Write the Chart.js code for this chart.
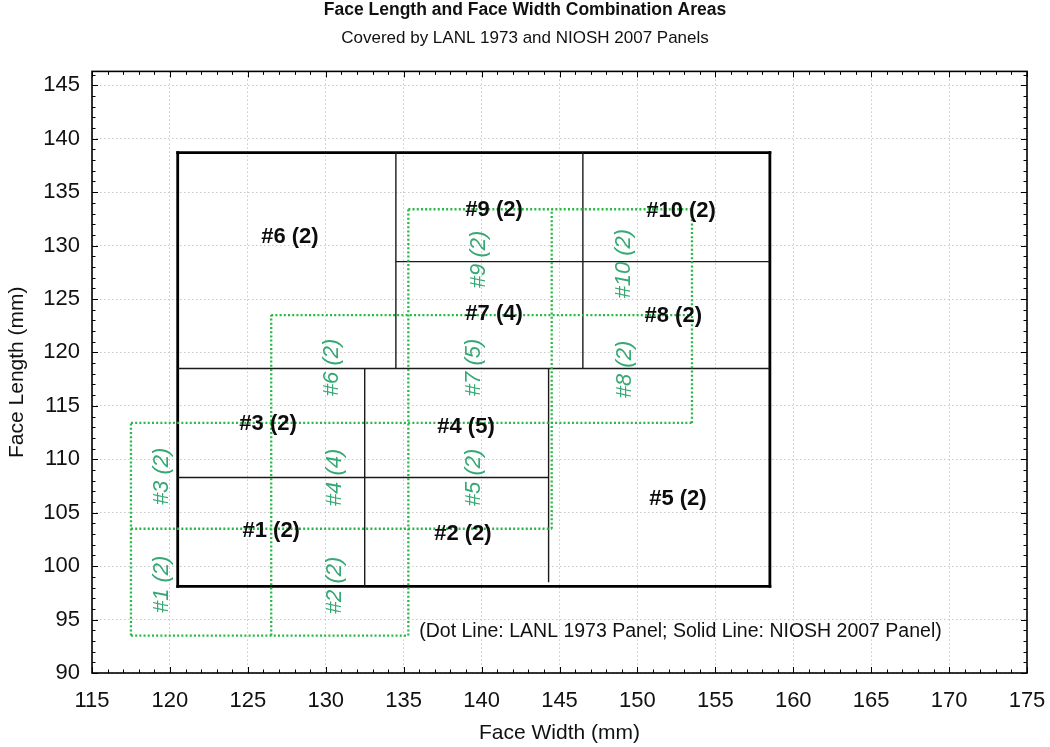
<!DOCTYPE html>
<html>
<head>
<meta charset="utf-8">
<title>Face Length and Face Width Combination Areas</title>
<script src="https://cdn.jsdelivr.net/npm/chart.js@4.4.1/dist/chart.umd.min.js"></script>
<style>
  html, body { margin: 0; padding: 0; background: #fff; }
  #wrap { width: 1050px; height: 747px; }
</style>
</head>
<body>
<div id="wrap"><canvas id="areaChart" width="1050" height="747"></canvas></div>
<script>
// ---- data (mm) ----
// segments are [x1, y1, x2, y2] = [width1, length1, width2, length2]

// NIOSH 2007 panel: outer box + inner cell borders (solid)
const nioshOutline = [
    [120.5, 98.1, 158.5, 98.1],
    [158.5, 98.1, 158.5, 138.7],
    [158.5, 138.7, 120.5, 138.7],
    [120.5, 138.7, 120.5, 98.1]
];
const nioshCells = [
    [120.5, 118.5, 158.5, 118.5],
    [120.5, 108.3, 144.3, 108.3],
    [134.5, 128.5, 158.5, 128.5],
    [132.5, 98.1, 132.5, 118.5],
    [144.3, 98.5, 144.3, 118.5],
    [134.5, 118.5, 134.5, 138.7],
    [146.5, 118.5, 146.5, 138.7]
];

// LANL 1973 panel cell borders (dotted)
const lanlCells = [
    [117.5, 93.5, 135.3, 93.5],
    [117.5, 103.5, 144.5, 103.5],
    [117.5, 113.4, 153.5, 113.4],
    [126.5, 123.5, 153.5, 123.5],
    [135.3, 133.4, 153.5, 133.4],
    [117.5, 93.5, 117.5, 113.4],
    [126.5, 93.5, 126.5, 123.5],
    [135.3, 93.5, 135.3, 133.4],
    [144.5, 103.5, 144.5, 133.4],
    [153.5, 113.4, 153.5, 133.4]
];

// cell labels
const nioshLabels = ['#1 (2)', '#2 (2)', '#3 (2)', '#4 (5)', '#5 (2)', '#6 (2)', '#7 (4)', '#8 (2)', '#9 (2)', '#10 (2)'];
const nioshLabelX = [126.5, 138.8, 126.3, 139.0, 152.6, 127.7, 140.8, 152.3, 140.8, 152.8];
const nioshLabelY = [103.3, 103.0, 113.3, 113.0, 106.3, 130.8, 123.6, 123.4, 133.3, 133.2];

const lanlLabels = ['#1 (2)', '#2 (2)', '#3 (2)', '#4 (4)', '#5 (2)', '#6 (2)', '#7 (5)', '#8 (2)', '#9 (2)', '#10 (2)'];
const lanlLabelX = [119.5, 130.6, 119.5, 130.6, 139.5, 130.4, 139.5, 149.2, 139.8, 149.1];
const lanlLabelY = [98.3, 98.2, 108.4, 108.3, 108.3, 118.6, 118.6, 118.4, 128.7, 128.3];

const noteText = '(Dot Line: LANL 1973 Panel; Solid Line: NIOSH 2007 Panel)';
const noteX = 136.0;
const noteY = 93.9;

// axis ranges / ticks
const xMin = 115, xMax = 175;
const yMin = 90, yMax = 146.3;
const majorStep = 5, minorStep = 1;

const FONT = "'Liberation Sans', Arial, sans-serif";

// one scatter dataset per straight segment
function segmentDataset(seg, style) {
    return Object.assign({
        data: [{ x: seg[0], y: seg[1] }, { x: seg[2], y: seg[3] }],
        showLine: true,
        pointRadius: 0,
        pointHoverRadius: 0,
        fill: false,
        tension: 0
    }, style);
}

const lanlStyle = { borderColor: '#28b846', borderWidth: 2.3, borderDash: [2, 2.2], borderCapStyle: 'butt' };
const nioshStyle = { borderColor: '#1a1a1a', borderWidth: 1.4 };
const outlineStyle = { borderColor: '#000', borderWidth: 2.8, borderCapStyle: 'square' };

// LANL first so it is painted on top
const datasets = [
    ...lanlCells.map(s => segmentDataset(s, lanlStyle)),
    ...nioshCells.map(s => segmentDataset(s, nioshStyle)),
    ...nioshOutline.map(s => segmentDataset(s, outlineStyle))
];

// white page behind everything
const whiteBg = {
    id: 'whiteBg',
    beforeDraw(chart) {
        const ctx = chart.ctx;
        ctx.save();
        ctx.fillStyle = '#fff';
        ctx.fillRect(0, 0, chart.width, chart.height);
        ctx.restore();
    }
};

// frame with inward major/minor ticks on all four sides
const frameTicks = {
    id: 'frameTicks',
    afterDraw(chart) {
        const { ctx, chartArea: a, scales: { x, y } } = chart;
        ctx.save();
        ctx.strokeStyle = '#000';
        ctx.lineWidth = 1;
        ctx.beginPath();
        for (let v = xMin; v <= xMax + 1e-9; v += minorStep) {
            const px = Math.round(x.getPixelForValue(v)) + 0.5;
            const len = v % majorStep === 0 ? 6 : 3.5;
            ctx.moveTo(px, a.bottom); ctx.lineTo(px, a.bottom - len);
            ctx.moveTo(px, a.top); ctx.lineTo(px, a.top + len);
        }
        for (let v = yMin; v <= yMax; v += minorStep) {
            const py = Math.round(y.getPixelForValue(v)) + 0.5;
            const len = v % majorStep === 0 ? 6 : 3.5;
            ctx.moveTo(a.left, py); ctx.lineTo(a.left + len, py);
            ctx.moveTo(a.right, py); ctx.lineTo(a.right - len, py);
        }
        ctx.stroke();
        ctx.lineWidth = 1.6;
        ctx.strokeRect(a.left, a.top, a.right - a.left, a.bottom - a.top);
        ctx.restore();
    }
};

// cell labels and the line-style note, placed through the scales
const cellText = {
    id: 'cellText',
    afterDatasetsDraw(chart) {
        const { ctx, scales: { x, y } } = chart;
        ctx.save();
        ctx.textAlign = 'center';
        ctx.textBaseline = 'middle';

        ctx.fillStyle = '#0d0d0d';
        ctx.font = 'bold 22px ' + FONT;
        nioshLabels.forEach((t, i) => {
            ctx.fillText(t, x.getPixelForValue(nioshLabelX[i]), y.getPixelForValue(nioshLabelY[i]));
        });

        ctx.fillStyle = '#35a874';
        ctx.font = 'italic 22px ' + FONT;
        lanlLabels.forEach((t, i) => {
            ctx.save();
            ctx.translate(x.getPixelForValue(lanlLabelX[i]), y.getPixelForValue(lanlLabelY[i]));
            ctx.rotate(-Math.PI / 2);
            ctx.fillText(t, 0, 0);
            ctx.restore();
        });

        ctx.fillStyle = '#111';
        ctx.font = '19.5px ' + FONT;
        ctx.textAlign = 'left';
        ctx.fillText(noteText, x.getPixelForValue(noteX), y.getPixelForValue(noteY));
        ctx.restore();
    }
};

const ctxAreas = document.getElementById('areaChart').getContext('2d');
new Chart(ctxAreas, {
    type: 'scatter',
    data: { datasets: datasets },
    options: {
        responsive: false,
        animation: false,
        events: [],
        layout: { padding: 0 },
        plugins: {
            legend: { display: false },
            tooltip: { enabled: false },
            title: {
                display: true,
                text: 'Face Length and Face Width Combination Areas',
                color: '#111',
                font: { family: FONT, size: 17.5, weight: 'bold' },
                padding: { top: 0, bottom: 5 }
            },
            subtitle: {
                display: true,
                text: 'Covered by LANL 1973 and NIOSH 2007 Panels',
                color: '#111',
                font: { family: FONT, size: 17 },
                padding: { top: 2, bottom: 23 }
            }
        },
        scales: {
            x: {
                type: 'linear',
                min: xMin,
                max: xMax,
                afterFit(scale) {
                    scale.height = 74;
                    // keep the plot edge fixed, not pushed by the last label
                    scale.paddingLeft = 0;
                    scale.paddingRight = 23;
                },
                ticks: {
                    stepSize: majorStep,
                    includeBounds: false,
                    color: '#111',
                    padding: 15,
                    maxRotation: 0,
                    font: { family: FONT, size: 22 }
                },
                grid: { color: '#c9c9c9', lineWidth: 1, drawTicks: false },
                border: { display: false, dash: [1.5, 2.5] },
                title: {
                    display: true,
                    text: 'Face Width (mm)',
                    color: '#111',
                    font: { family: FONT, size: 21 },
                    padding: { top: 0, bottom: 1 }
                }
            },
            y: {
                type: 'linear',
                min: yMin,
                max: yMax,
                afterFit(scale) { scale.width = 92; },
                ticks: {
                    stepSize: majorStep,
                    includeBounds: false,
                    color: '#111',
                    padding: 12,
                    font: { family: FONT, size: 22 }
                },
                grid: { color: '#c9c9c9', lineWidth: 1, drawTicks: false },
                border: { display: false, dash: [1.5, 2.5] },
                title: {
                    display: true,
                    text: 'Face Length (mm)',
                    color: '#111',
                    font: { family: FONT, size: 21 },
                    padding: { top: 5, bottom: 0 }
                }
            }
        }
    },
    plugins: [whiteBg, cellText, frameTicks]
});
</script>
</body>
</html>
